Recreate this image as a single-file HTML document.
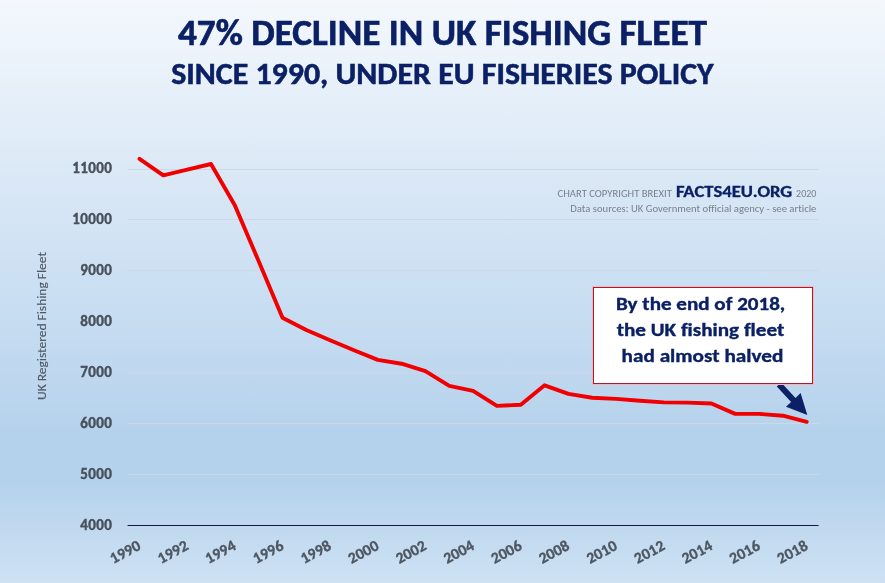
<!DOCTYPE html>
<html>
<head>
<meta charset="utf-8">
<style>
html,body{margin:0;padding:0;}
body{width:885px;height:583px;overflow:hidden;position:relative;
background:linear-gradient(to bottom,#f4f8fd 0%,#e5eff9 17.2%,#d7e6f5 34.3%,#c9def2 51.5%,#bed7ef 65.2%,#b5d2ec 74%,#b5d2ec 83%,#cee1f3 100%);}
svg{position:absolute;left:0;top:0;}
text{font-family:"Carlito","Liberation Sans",sans-serif;font-variant-ligatures:none;}
.b{font-weight:bold;}
.navy{fill:#0b2065;}
.yl{font-weight:bold;font-size:15.0px;fill:#48505b;stroke:#48505b;stroke-width:0.4px;text-anchor:end;letter-spacing:0px;}
.xl{font-weight:bold;font-size:15.6px;fill:#4e5661;stroke:#4e5661;stroke-width:0.35px;text-anchor:end;letter-spacing:0px;}
</style>
</head>
<body>
<svg width="885" height="583" viewBox="0 0 885 583">
  <!-- title -->
  <text class="b navy" x="178" y="44.9" font-size="36" stroke="#0b2065" stroke-width="0.6" textLength="529" lengthAdjust="spacingAndGlyphs">47% DECLINE IN UK FISHING FLEET</text>
  <text class="b navy" x="171.2" y="84.4" font-size="29.6" stroke="#0b2065" stroke-width="0.5" textLength="542.5" lengthAdjust="spacingAndGlyphs">SINCE 1990, UNDER EU FISHERIES POLICY</text>

  <!-- gridlines -->
  <g stroke="#ccd8e6" stroke-width="1">
    <line x1="127.6" x2="818.6" y1="169.5" y2="169.5"/>
    <line x1="127.6" x2="818.6" y1="219.5" y2="219.5"/>
    <line x1="127.6" x2="818.6" y1="270.5" y2="270.5"/>
    <line x1="127.6" x2="818.6" y1="321.5" y2="321.5"/>
    <line x1="127.6" x2="818.6" y1="372.9" y2="372.9"/>
    <line x1="127.6" x2="818.6" y1="423.5" y2="423.5"/>
    <line x1="127.6" x2="818.6" y1="474.5" y2="474.5"/>
  </g>
  <line x1="127.6" x2="818.6" y1="525.5" y2="525.5" stroke="#0b1f42" stroke-width="1"/>

  <!-- y labels -->
  <g class="yl">
    <text x="111.8" y="173.0" textLength="39.5">11000</text>
    <text x="111.8" y="223.7" textLength="39.5">10000</text>
    <text x="111.8" y="274.7" textLength="31.5">9000</text>
    <text x="111.8" y="325.7" textLength="31.5">8000</text>
    <text x="111.8" y="377.1" textLength="31.5">7000</text>
    <text x="111.8" y="427.7" textLength="31.5">6000</text>
    <text x="111.8" y="478.7" textLength="31.5">5000</text>
    <text x="111.8" y="529.7" textLength="31.5">4000</text>
  </g>

  <!-- axis title -->
  <text x="0" y="0" font-size="12.4" fill="#505a66" stroke="#505a66" stroke-width="0.15" transform="translate(46,400) rotate(-90)" textLength="148" lengthAdjust="spacingAndGlyphs">UK Registered Fishing Fleet</text>

  <!-- x labels -->
  <g class="xl">
    <text transform="translate(141.7,548.9) rotate(-28)" textLength="32.2">1990</text>
    <text transform="translate(189.4,548.9) rotate(-28)" textLength="32.2">1992</text>
    <text transform="translate(237.0,548.9) rotate(-28)" textLength="32.2">1994</text>
    <text transform="translate(284.7,548.9) rotate(-28)" textLength="32.2">1996</text>
    <text transform="translate(332.3,548.9) rotate(-28)" textLength="32.2">1998</text>
    <text transform="translate(380.0,548.9) rotate(-28)" textLength="32.2">2000</text>
    <text transform="translate(427.6,548.9) rotate(-28)" textLength="32.2">2002</text>
    <text transform="translate(475.3,548.9) rotate(-28)" textLength="32.2">2004</text>
    <text transform="translate(523.0,548.9) rotate(-28)" textLength="32.2">2006</text>
    <text transform="translate(570.6,548.9) rotate(-28)" textLength="32.2">2008</text>
    <text transform="translate(618.3,548.9) rotate(-28)" textLength="32.2">2010</text>
    <text transform="translate(665.9,548.9) rotate(-28)" textLength="32.2">2012</text>
    <text transform="translate(713.6,548.9) rotate(-28)" textLength="32.2">2014</text>
    <text transform="translate(761.2,548.9) rotate(-28)" textLength="32.2">2016</text>
    <text transform="translate(808.9,548.9) rotate(-28)" textLength="32.2">2018</text>
  </g>

  <!-- copyright -->
  <g font-size="10" fill="#7a7f88">
    <text x="557.6" y="196.7" textLength="114.3" lengthAdjust="spacingAndGlyphs">CHART COPYRIGHT BREXIT</text>
    <text class="b" x="675.9" y="196.7" font-size="16.6" fill="#0b2065" stroke="#0b2065" stroke-width="0.3" textLength="116.3" lengthAdjust="spacingAndGlyphs">FACTS4EU.ORG</text>
    <text x="796.1" y="196.7" textLength="20.3" lengthAdjust="spacingAndGlyphs">2020</text>
    <text x="570.3" y="211.6" textLength="246.1" lengthAdjust="spacingAndGlyphs">Data sources: UK Government official agency - see article</text>
  </g>

  <!-- data line -->
  <polyline fill="none" stroke="#f00000" stroke-width="3.9" stroke-linejoin="round" stroke-linecap="round"
    points="139.5,158.9 163.3,175.3 187.2,169.6 211.0,164.0 234.8,205.3 258.7,261.3 282.5,317.7 306.3,330.0 330.1,340.2 354.0,350.2 377.8,359.9 401.6,363.7 425.4,371.2 449.3,385.9 473.1,390.8 496.9,405.9 520.8,404.7 544.6,385.3 568.4,393.9 592.2,397.7 616.1,398.9 639.9,400.8 663.7,402.4 687.5,402.6 711.4,403.5 735.2,413.9 759.0,413.9 782.9,415.7 806.7,421.8"/>

  <!-- arrow -->
  <polygon class="navy" points="776.8,386.6 781.2,382.6 795.5,397.9 800.6,393.1 807.3,415.0 786.0,406.7 791.1,402.0"/>
  <!-- annotation box -->
  <rect x="592.5" y="286.5" width="221" height="98" fill="none" stroke="#f5b5c0" stroke-width="1"/>
  <rect x="593.5" y="287.5" width="219" height="96" fill="#ffffff" stroke="#a51e30" stroke-width="1"/>
  <g class="b navy" font-size="18" stroke="#0b2065" stroke-width="0.35">
    <text x="616" y="310.4" textLength="169.3" lengthAdjust="spacingAndGlyphs">By the end of 2018,</text>
    <text x="616.7" y="336.3" textLength="167.6" lengthAdjust="spacingAndGlyphs">the UK fishing fleet</text>
    <text x="621.6" y="362.4" textLength="161.8" lengthAdjust="spacingAndGlyphs">had almost halved</text>
  </g>

</svg>
</body>
</html>
